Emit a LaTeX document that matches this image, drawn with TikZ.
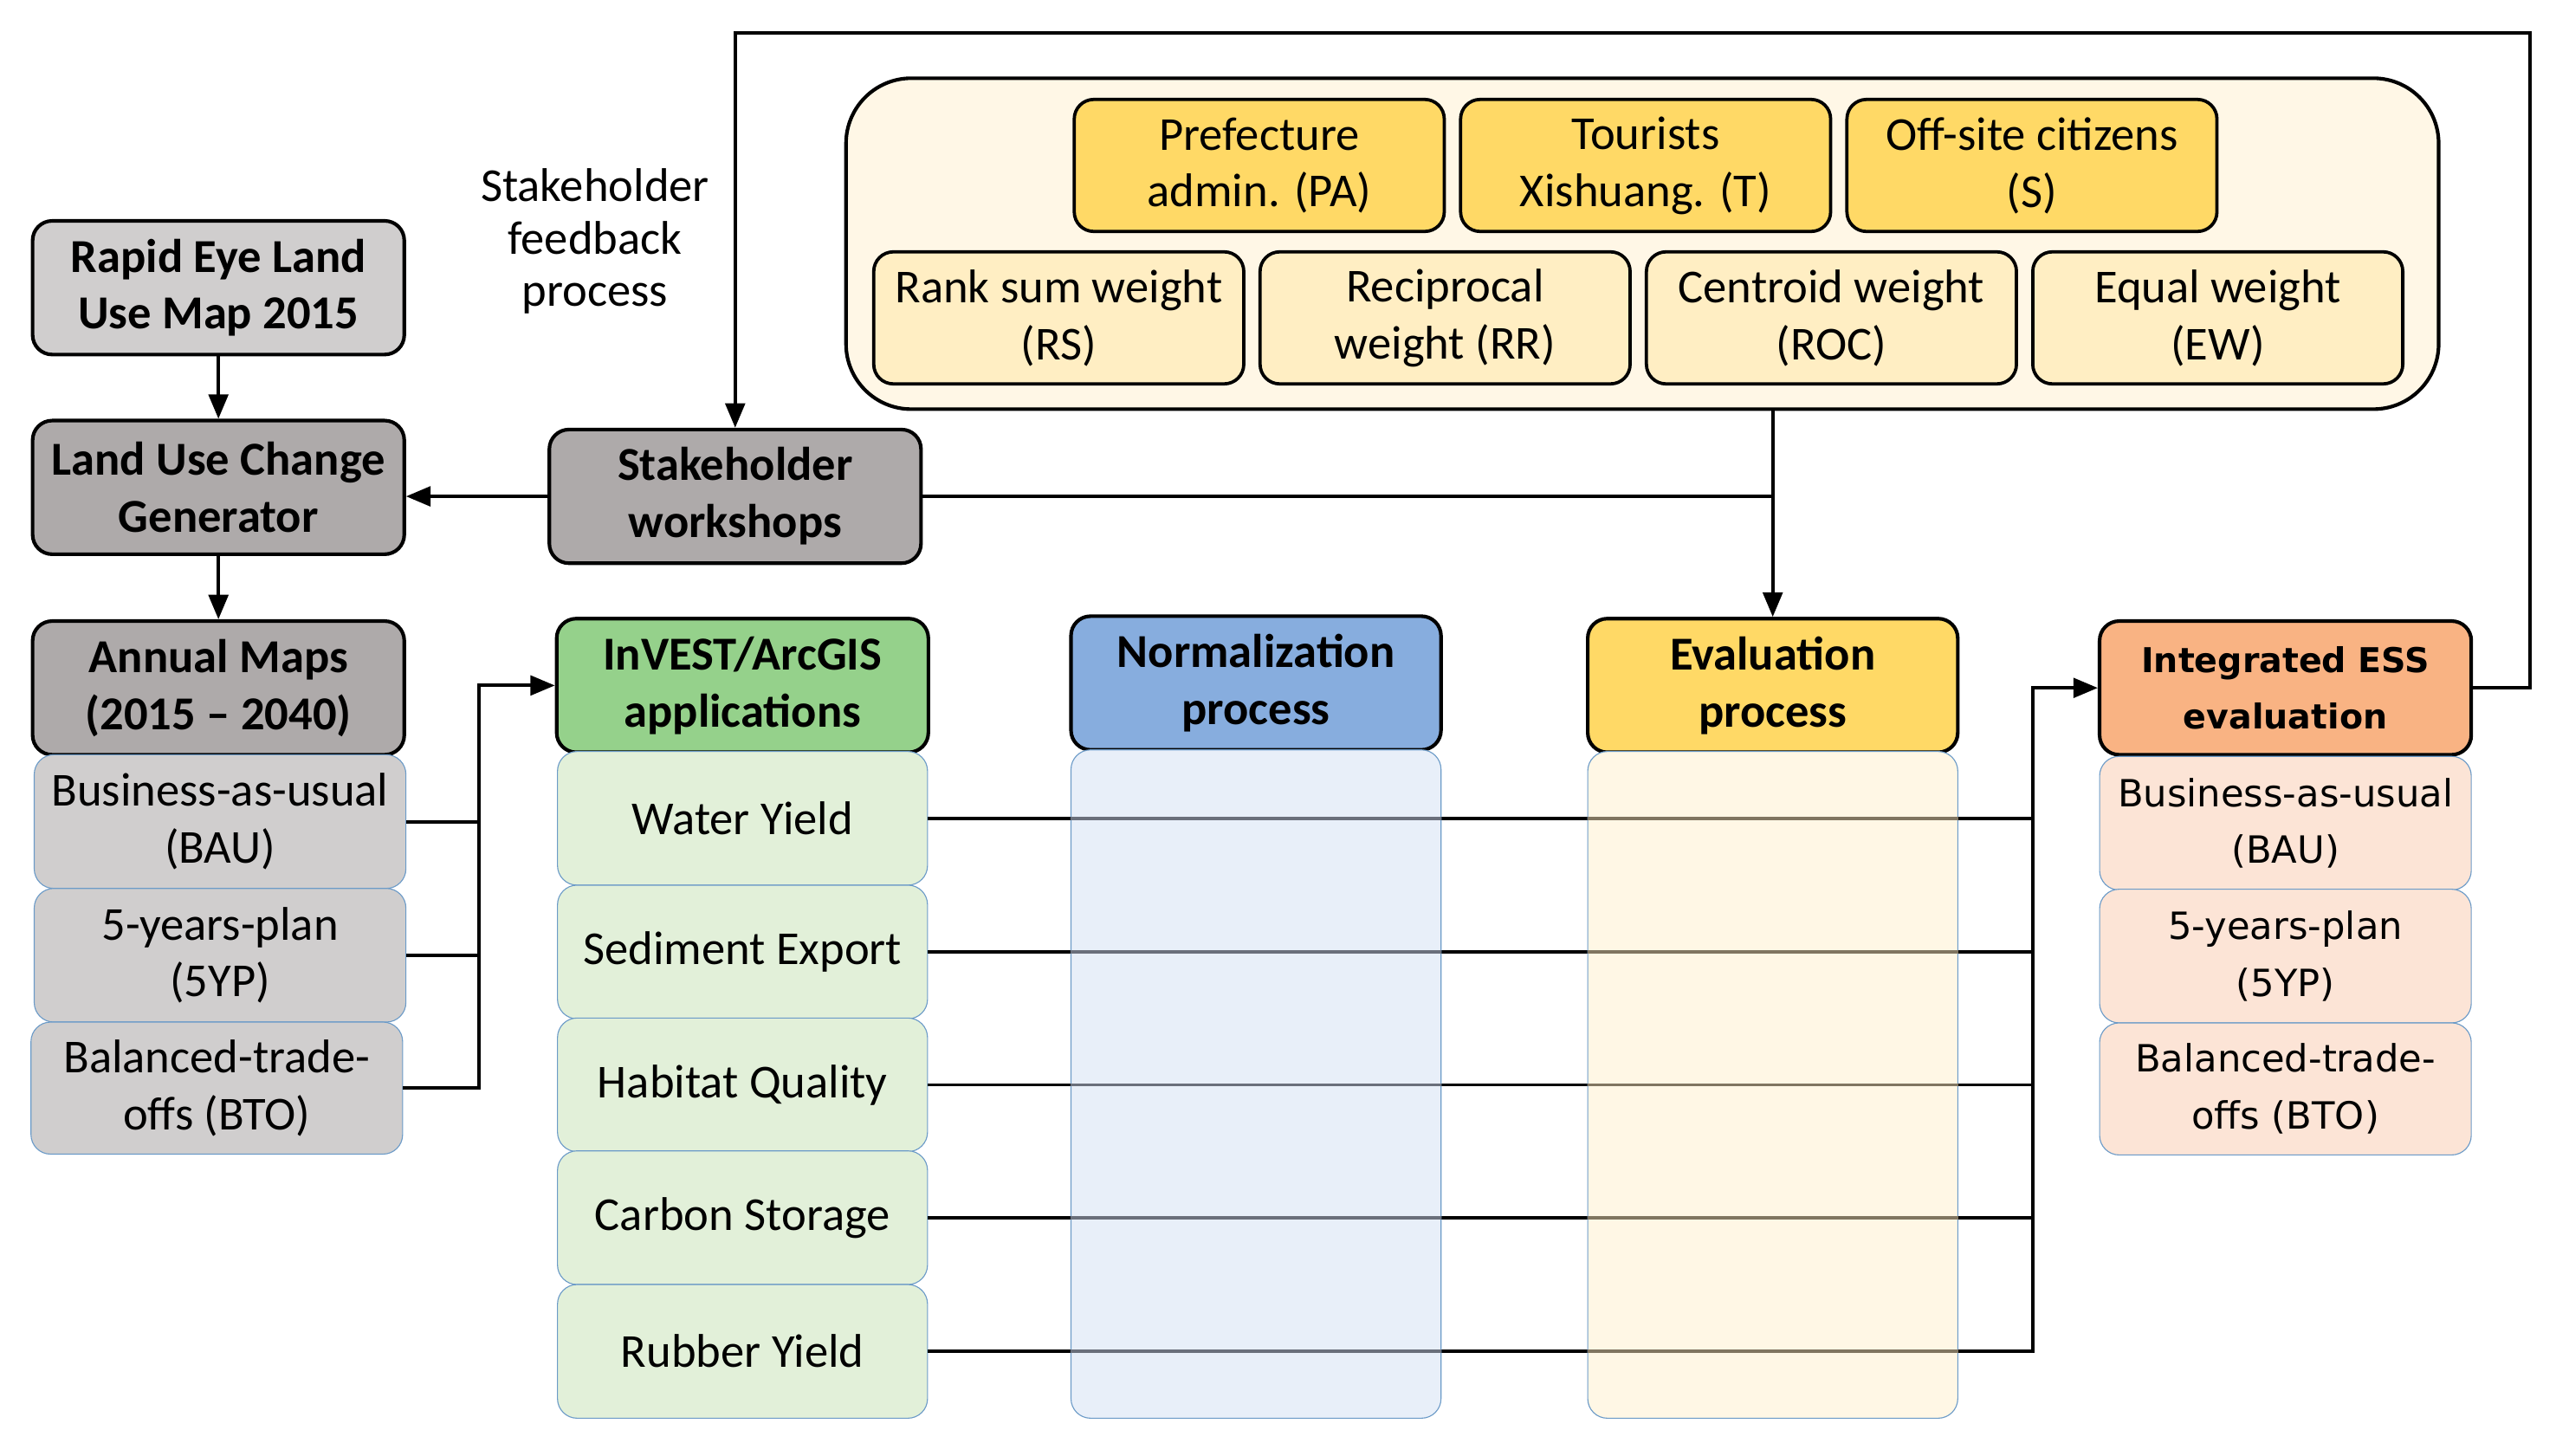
\documentclass[tikz,border=0pt]{standalone}
\usepackage{fontspec}
\setmainfont{Carlito}
\newfontfamily\verd{DejaVu Sans}
\usetikzlibrary{arrows.meta}
\definecolor{gL}{HTML}{D0CECE}
\definecolor{gD}{HTML}{AEAAAA}
\definecolor{yH}{HTML}{FFD966}
\definecolor{yL}{HTML}{FFEEC3}
\definecolor{cream}{HTML}{FFF7E6}
\definecolor{grH}{HTML}{95D18B}
\definecolor{grL}{HTML}{E2F0D9}
\definecolor{blH}{HTML}{87ADDE}
\definecolor{blL}{HTML}{E8EFF9}
\definecolor{orH}{HTML}{F9B383}
\definecolor{orL}{HTML}{FCE4D6}
\definecolor{evL}{HTML}{FFF7E5}
\definecolor{thinb}{HTML}{6C9BC8}
\definecolor{lnB}{HTML}{6A6F7B}
\definecolor{lnY}{HTML}{807560}
\tikzset{
  hdr/.style={draw=black, line width=2.2pt, rounded corners=12pt, minimum width=228pt, minimum height=82pt, inner sep=0pt, align=center, font=\fontsize{29}{35}\selectfont\bfseries},
  wbox/.style={draw=black, line width=2pt, rounded corners=12pt, minimum width=227pt, minimum height=81pt, inner sep=0pt, align=center, font=\fontsize{29}{35}\selectfont},
  sub/.style={draw=thinb, line width=0.6pt, rounded corners=12pt, minimum width=228pt, minimum height=82pt, inner sep=0pt, align=center, font=\fontsize{29}{35}\selectfont},
  lane/.style={draw=thinb, line width=0.6pt, rounded corners=12pt, minimum width=227pt, inner sep=0pt},
  conn/.style={line width=2.1pt},
  arr/.style={conn, -{Triangle[length=15pt,width=12pt]}}
}
\begin{document}
\begin{tikzpicture}[x=1pt,y=-1pt]
\useasboundingbox (0,0) rectangle (1568,893);

% container with weights
\node[draw=black, line width=2.2pt, rounded corners=40pt, fill=cream, minimum width=977pt, minimum height=203pt, inner sep=0pt] (cont) at (1007.5,149.5) {};
\node[wbox, fill=yH] (pa) at (772.5,101.5) {Prefecture\\admin. (PA)};
\node[wbox, fill=yH] (t) at (1009.5,101.5) {Tourists\\Xishuang. (T)};
\node[wbox, fill=yH] (s) at (1246.5,101.5) {Off-site citizens\\(S)};
\node[wbox, fill=yL] (rs) at (649.5,195) {Rank sum weight\\(RS)};
\node[wbox, fill=yL] (rr) at (886.5,195) {Reciprocal\\weight (RR)};
\node[wbox, fill=yL] (roc) at (1123.5,195) {Centroid weight\\(ROC)};
\node[wbox, fill=yL] (ew) at (1360.5,195) {Equal weight\\(EW)};

% left column
\node[hdr, fill=gL] (rapid) at (134,176.5) {Rapid Eye Land\\Use Map 2015};
\node[hdr, fill=gD] (luc) at (134,299) {Land Use Change\\Generator};
\node[hdr, fill=gD] (sw) at (451,304.5) {Stakeholder\\workshops};
\node[hdr, fill=gD] (annual) at (134,422) {Annual Maps\\(2015 -- 2040)};
\node[sub, fill=gL] (bau) at (135,504) {Business-as-usual\\(BAU)};
\node[sub, fill=gL] (fyp) at (135,586) {5-years-plan\\(5YP)};
\node[sub, fill=gL, minimum height=81pt] (bto) at (133,667.5) {Balanced-trade-\\offs (BTO)};

\node[align=center, font=\fontsize{29}{32}\selectfont] (fbtext) at (365,148) {Stakeholder\\feedback\\process};

% InVEST column
\node[hdr, fill=grH] (invest) at (455.5,420.5) {InVEST/ArcGIS\\applications};
\node[sub, fill=grL, minimum width=227pt] (wy) at (455.5,502) {Water Yield};
\node[sub, fill=grL, minimum width=227pt] (se) at (455.5,584) {Sediment Export};
\node[sub, fill=grL, minimum width=227pt] (hq) at (455.5,665.5) {Habitat Quality};
\node[sub, fill=grL, minimum width=227pt] (cs) at (455.5,747) {Carbon Storage};
\node[sub, fill=grL, minimum width=227pt] (ry) at (455.5,829) {Rubber Yield};

% process headers
\node[hdr, fill=blH, minimum width=227pt] (norm) at (770.5,419) {Normalization\\process};
\node[hdr, fill=yH, minimum width=227pt] (eval) at (1087.5,420.5) {Evaluation\\process};

% ESS column
\node[hdr, fill=orH, font=\verd\fontsize{21}{35}\selectfont\bfseries] (ess) at (1402,422) {Integrated ESS\\evaluation};
\node[sub, fill=orL, font=\verd\fontsize{23}{35}\selectfont] (ebau) at (1402,505) {Business-as-usual\\(BAU)};
\node[sub, fill=orL, font=\verd\fontsize{23}{35}\selectfont] (efyp) at (1402,586.5) {5-years-plan\\(5YP)};
\node[sub, fill=orL, minimum height=81pt, font=\verd\fontsize{23}{35}\selectfont] (ebto) at (1402,668) {Balanced-trade-\\offs (BTO)};

% coordinates
\coordinate (busL) at (294,420.5);
\coordinate (busR) at (1247,422);
\coordinate (fbR) at (1552,20);
\coordinate (fbL) at (451,20);

% connectors
\draw[arr] (rapid) -- (luc);
\draw[arr] (luc) -- (annual);
\draw[arr] (sw.west) -- (sw.west -| luc.east);
\draw[conn] (sw.east) -- (sw.east -| eval.north);
\draw[arr] (eval.north |- cont.south) -- (eval.north);
\draw[arr] (ess.east) -| (fbR) -- (fbL) -- (sw.north);

\draw[conn] (bau.east) -- (bau.east -| busL);
\draw[conn] (fyp.east) -- (fyp.east -| busL);
\draw[arr] (bto.east) -| (busL) -- (invest.west);

\draw[conn] (wy.east) -- (wy.east -| busR);
\draw[conn] (se.east) -- (se.east -| busR);
\draw[conn] (hq.east) -- (hq.east -| busR);
\draw[conn] (cs.east) -- (cs.east -| busR);
\draw[arr] (ry.east) -| (busR) -- (ess.west);

% lanes (the connectors show through them, tinted)
\node[lane, fill=blL, minimum height=410pt] (normlane) at (770.5,665) {};
\node[lane, fill=evL, minimum height=409pt] (evallane) at (1087.5,665.5) {};
\foreach \sv in {wy,se,hq,cs,ry}{
  \draw[line width=2.1pt, lnB] (normlane.west |- \sv.east) -- (normlane.east |- \sv.east);
  \draw[line width=2.1pt, lnY] (evallane.west |- \sv.east) -- (evallane.east |- \sv.east);
}
\end{tikzpicture}
\end{document}
